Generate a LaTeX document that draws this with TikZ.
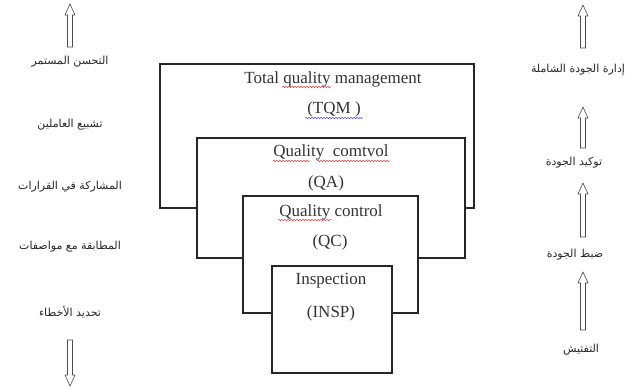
\documentclass[tikz,border=0pt]{standalone}
\usepackage{fontspec}
\setmainfont{Liberation Serif}
\newfontfamily\arabicfont[Script=Arabic]{DejaVu Sans}
\TeXXeTstate=1
\usetikzlibrary{decorations.pathmorphing}

% hollow block arrows: x, tail y, tip y
\newcommand\hollowup[3]{%
  \draw[blockarrow] (#1-2.5,#2) -- (#1-2.5,#3+11) -- (#1-5,#3+11) -- (#1,#3)
    -- (#1+5,#3+11) -- (#1+2.5,#3+11) -- (#1+2.5,#2) -- cycle;}
\newcommand\hollowdown[3]{%
  \draw[blockarrow] (#1-2.5,#2) -- (#1-2.5,#3-11) -- (#1-5,#3-11) -- (#1,#3)
    -- (#1+5,#3-11) -- (#1+2.5,#3-11) -- (#1+2.5,#2) -- cycle;}

\begin{document}
\begin{tikzpicture}[x=1pt,y=-1pt,
  frame/.style={line width=1.9pt,line join=miter,black!85},
  engl/.style={font=\fontsize{17}{19}\selectfont,text=black!80,inner sep=0pt},
  arab/.style={font=\arabicfont\fontsize{11}{13}\selectfont,text=black!85,inner sep=0pt},
  blockarrow/.style={draw=black!70,fill=white,line width=0.6pt,line join=miter},
  spell/.style={decorate,decoration={snake,segment length=3pt,amplitude=0.7pt},line width=0.5pt},
]
\useasboundingbox (0,0) rectangle (635,390);

% corners of the nested levels
\coordinate (tqmTL) at (160,64);  \coordinate (tqmTR) at (474,64);
\coordinate (qaTL)  at (197,138); \coordinate (qaTR)  at (465,138);
\coordinate (qcTL)  at (243,196); \coordinate (qcTR)  at (418,196);
\coordinate (inTL)  at (272,266); \coordinate (inBR)  at (392,373);

% each level: open frame whose floor stops at the next level inside
\draw[frame] (qaTL |- 0,208) -- (tqmTL |- 0,208) -- (tqmTL) -- (tqmTR) -- (tqmTR |- 0,208) -- (qaTR |- 0,208);
\draw[frame] (qcTL |- 0,258) -- (qaTL |- 0,258) -- (qaTL) -- (qaTR) -- (qaTR |- 0,258) -- (qcTR |- 0,258);
\draw[frame] (inTL |- 0,313) -- (qcTL |- 0,313) -- (qcTL) -- (qcTR) -- (qcTR |- 0,313) -- (inBR |- 0,313);
\draw[frame] (inTL) rectangle (inBR);

% level labels
\node[engl] (tqm1) at (333,79)  {Total quality management};
\node[engl] (tqm2) at (334,109) {(TQM )};
\node[engl] (qa1)  at (331,152) {Quality\ \ comtvol};
\node[engl] (qa2)  at (326,183) {(QA)};
\node[engl] (qc1)  at (331,212) {Quality control};
\node[engl] (qc2)  at (330,242) {(QC)};
\node[engl] (in1)  at (331,281) {Inspection};
\node[engl] (in2)  at (331,313) {(INSP)};

% proofing marks under the words
\draw[spell,red!75] (282,87) -- (331,87);
\draw[spell,blue!70] (305,118) -- (363,118);
\draw[spell,red!75] (273,161) -- (310,161);
\draw[spell,red!75] (317,161) -- (390,161);
\draw[spell,red!75] (278,220) -- (332,220);

% left column
\hollowup{70}{47}{4}
\node[arab] (l1) at (70,62)  {\beginR التحسن المستمر\endR};
\node[arab] (l2) at (70,125) {\beginR تشبيع العاملين\endR};
\node[arab] (l3) at (70,187) {\beginR المشاركة في القرارات\endR};
\node[arab] (l4) at (70,247) {\beginR المطابقة مع مواصفات\endR};
\node[arab] (l5) at (70,312) {\beginR تحديد الأخطاء\endR};
\hollowdown{70}{340}{386}

% right column
\hollowup{583}{48}{5}
\node[arab] (r1) at (578,70)  {\beginR إدارة الجودة الشاملة\endR};
\hollowup{583}{148}{107}
\node[arab] (r2) at (574,163) {\beginR توكيد الجودة\endR};
\hollowup{583}{237}{183}
\node[arab] (r3) at (575,255) {\beginR ضبط الجودة\endR};
\hollowup{583}{330}{272}
\node[arab] (r4) at (581,350) {\beginR التفتيش\endR};
\end{tikzpicture}
\end{document}
